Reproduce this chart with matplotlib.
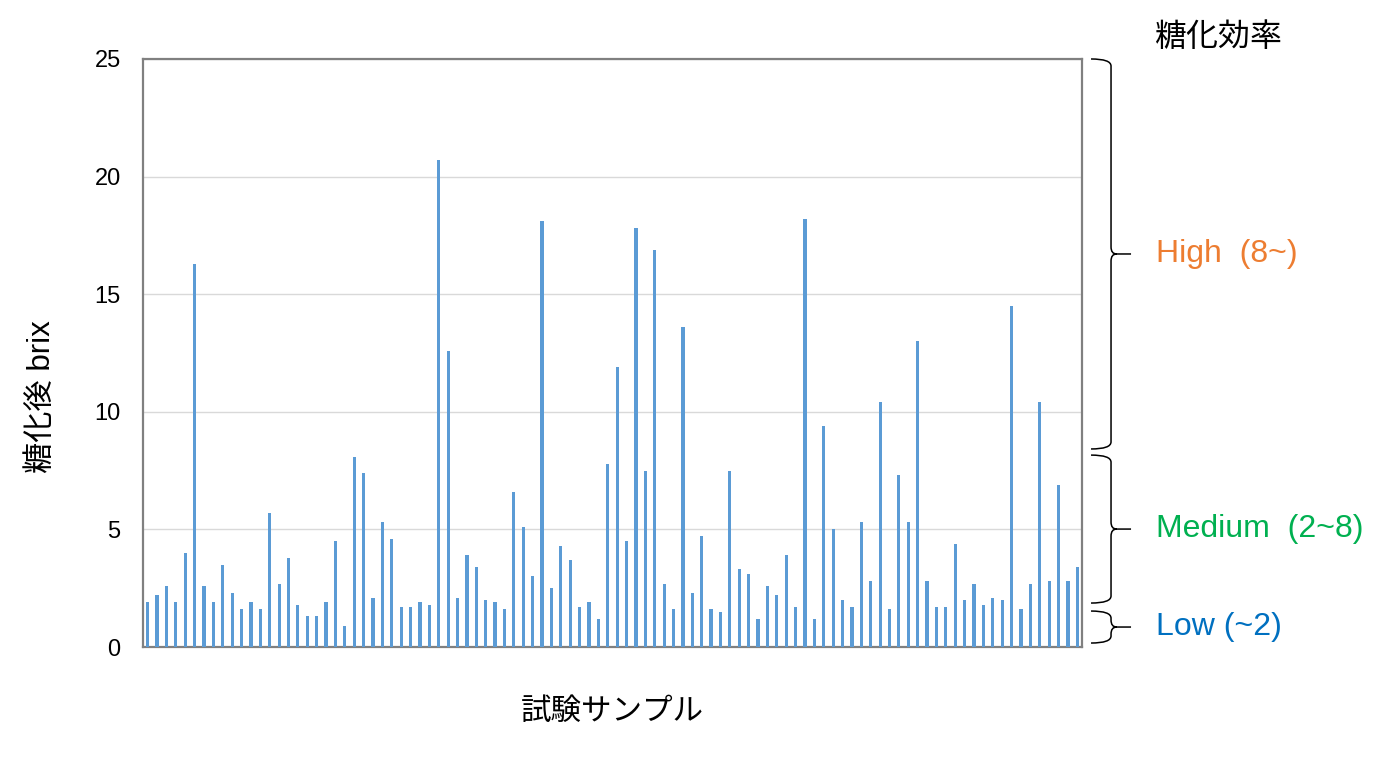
import matplotlib
matplotlib.use("Agg")
import matplotlib.pyplot as plt
from matplotlib.path import Path
from matplotlib.patches import PathPatch
import numpy as np

plt.rcParams["font.family"] = ["Liberation Sans", "Noto Sans CJK JP", "DejaVu Sans"]

# brix after saccharification, one value per test sample
brix = [
    1.9, 2.2, 2.6, 1.9, 4.0, 16.3, 2.6, 1.9, 3.5, 2.3,
    1.6, 1.9, 1.6, 5.7, 2.7, 3.8, 1.8, 1.3, 1.3, 1.9,
    4.5, 0.9, 8.1, 7.4, 2.1, 5.3, 4.6, 1.7, 1.7, 1.9,
    1.8, 20.7, 12.6, 2.1, 3.9, 3.4, 2.0, 1.9, 1.6, 6.6,
    5.1, 3.0, 18.1, 2.5, 4.3, 3.7, 1.7, 1.9, 1.2, 7.8,
    11.9, 4.5, 17.8, 7.5, 16.9, 2.7, 1.6, 13.6, 2.3, 4.7,
    1.6, 1.5, 7.5, 3.3, 3.1, 1.2, 2.6, 2.2, 3.9, 1.7,
    18.2, 1.2, 9.4, 5.0, 2.0, 1.7, 5.3, 2.8, 10.4, 1.6,
    7.3, 5.3, 13.0, 2.8, 1.7, 1.7, 4.4, 2.0, 2.7, 1.8,
    2.1, 2.0, 14.5, 1.6, 2.7, 10.4, 2.8, 6.9, 2.8, 3.4,
]
samples = np.arange(len(brix))

yticks = [0, 5, 10, 15, 20, 25]

# efficiency classes: label, colour, brace span (top, bottom) in brix
classes = ["High  (8~)", "Medium  (2~8)", "Low (~2)"]
class_colors = ["#ED7D31", "#00B050", "#0070C0"]
brace_tops = [25.0, 8.16, 1.53]
brace_bottoms = [8.42, 1.87, 0.17]

bar_color = "#5B9BD5"
spine_color = "#808080"


def draw_brace(ax, top, bottom, x0=1.0096, x1=1.0309, x2=1.0522, r=0.3):
    mid = (top + bottom) / 2
    dx = 0.006
    verts = [
        (x0, top), (x1, top), (x1, top - r),
        (x1, mid + r),
        (x1, mid), (x1 + dx, mid),
        (x2, mid),
        (x1 + dx, mid),
        (x1, mid), (x1, mid - r),
        (x1, bottom + r),
        (x1, bottom), (x0, bottom),
    ]
    codes = [
        Path.MOVETO, Path.CURVE3, Path.CURVE3,
        Path.LINETO,
        Path.CURVE3, Path.CURVE3,
        Path.LINETO,
        Path.MOVETO,
        Path.CURVE3, Path.CURVE3,
        Path.LINETO,
        Path.CURVE3, Path.CURVE3,
    ]
    patch = PathPatch(Path(verts, codes), fill=False, lw=1.1, edgecolor="black",
                      transform=ax.get_yaxis_transform(), clip_on=False)
    ax.add_patch(patch)
    return mid


fig = plt.figure(figsize=(13.81, 7.64), dpi=100)
ax = fig.add_axes([0.1035, 0.1531, 0.68, 0.7697])

ax.bar(samples, brix, width=0.34, color=bar_color, zorder=3)

ax.set_xlim(-0.5, len(brix) - 0.5)
ax.set_ylim(0, 25)
ax.set_yticks(yticks)
ax.set_yticklabels([str(v) for v in yticks])
ax.set_xticks([])
ax.tick_params(axis="y", length=0, pad=16, labelsize=17)
ax.grid(axis="y", color="#D9D9D9", lw=1.0, zorder=0)

for s in ax.spines.values():
    s.set_color(spine_color)
    s.set_linewidth(1.6)

ax.set_xlabel("試験サンプル", fontsize=22, labelpad=36)
ax.set_ylabel("糖化後 brix", fontsize=22.5)
ax.yaxis.set_label_coords(-0.0916, 0.425)

for label, color, top, bot in zip(classes, class_colors, brace_tops, brace_bottoms):
    mid = draw_brace(ax, top, bot)
    ax.text(1.0785, mid, label, color=color, fontsize=23, va="center", ha="left",
            transform=ax.get_yaxis_transform())

ax.text(1.0775, 25.9, "糖化効率", fontsize=23, va="center", ha="left",
        transform=ax.get_yaxis_transform())

plt.savefig("out.png", dpi=100)
plt.close("all")
